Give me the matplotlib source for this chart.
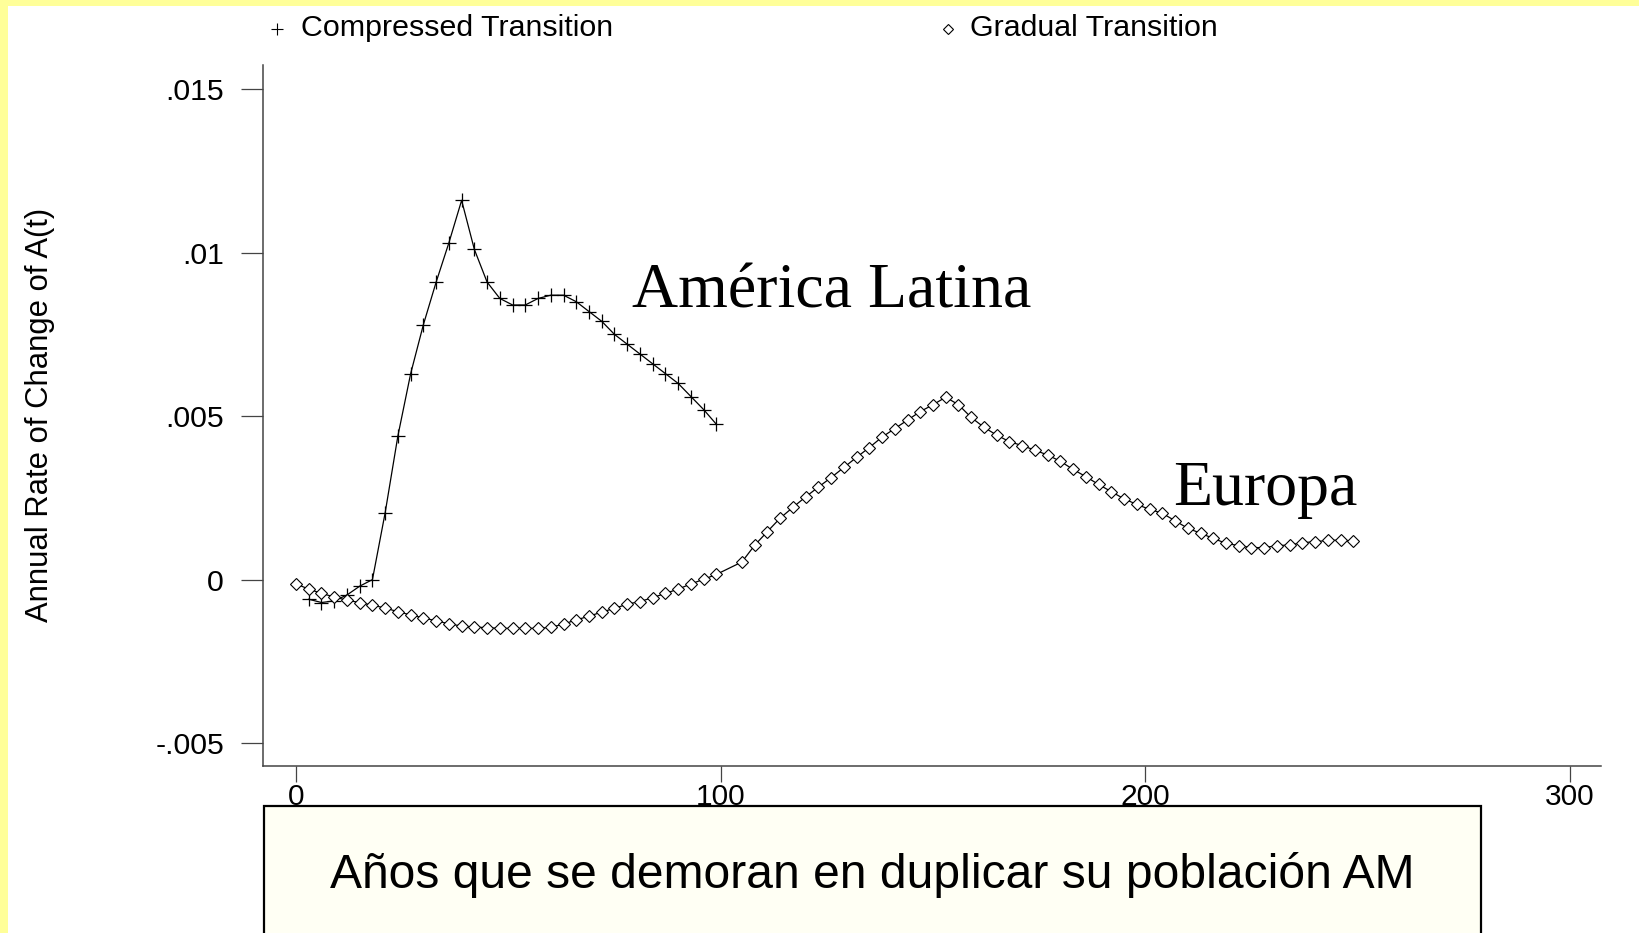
import numpy as np
import matplotlib
matplotlib.use("Agg")
import matplotlib.pyplot as plt
from matplotlib.patches import Rectangle
from matplotlib.lines import Line2D

# Compressed transition (América Latina): every 3 years, 3..99
compressed_years = list(range(3, 100, 3))
compressed_rate = [-0.0006, -0.0007, -0.00065, -0.00047, -0.0002, 0.0, 0.00205,
                   0.0044, 0.0063, 0.0078, 0.0091, 0.0103, 0.0116, 0.0101, 0.0091,
                   0.0086, 0.0084, 0.0084, 0.0086, 0.0087, 0.0087, 0.0085, 0.0082,
                   0.0079, 0.0075, 0.0072, 0.0069, 0.0066, 0.0063, 0.0060, 0.0056,
                   0.0052, 0.00475]

# Gradual transition (Europa): every 3 years, 0..99 and 105..249
gradual_years = list(range(0, 100, 3)) + list(range(105, 250, 3))
gradual_rate = [-0.00013, -0.00029, -0.00042, -0.00053, -0.00063, -0.00070, -0.00078,
                -0.00087, -0.00098, -0.00108, -0.00117, -0.00126, -0.00135, -0.00142,
                -0.00145, -0.00147, -0.00149, -0.00149, -0.00149, -0.00149, -0.00146,
                -0.00136, -0.00123, -0.00112, -0.00099, -0.00088, -0.00075, -0.00067,
                -0.00055, -0.00042, -0.00029, -0.00013, 0.00001, 0.00016,
                0.00054, 0.00105, 0.00147, 0.00188, 0.00221, 0.00253, 0.00283, 0.00312,
                0.00343, 0.00374, 0.00404, 0.00436, 0.00462, 0.00488, 0.00514, 0.00535,
                0.00558, 0.00535, 0.00496, 0.00466, 0.00442, 0.00422, 0.00410, 0.00396,
                0.00381, 0.00362, 0.00337, 0.00315, 0.00291, 0.00269, 0.00247, 0.00230,
                0.00215, 0.00203, 0.00180, 0.00157, 0.00142, 0.00126, 0.00111, 0.00104,
                0.00098, 0.00098, 0.00104, 0.00106, 0.00113, 0.00116, 0.00120, 0.00121,
                0.00118]

x_ticks = [0, 100, 200, 300]
y_ticks = [-0.005, 0, 0.005, 0.01, 0.015]
y_tick_labels = ["-.005", "0", ".005", ".01", ".015"]

series_labels = ["Compressed Transition", "Gradual Transition"]
region_labels = ["América Latina", "Europa"]
x_title = "Años que se demoran en duplicar su población AM"
y_title = "Annual Rate of Change of A(t)"

W, H = 1639, 933
plt.rcParams["font.family"] = ["Liberation Sans", "DejaVu Sans"]

fig = plt.figure(figsize=(W / 100, H / 100), dpi=100, facecolor="white")

def px(x0, y0, x1, y1):
    return [x0 / W, 1 - y1 / H, (x1 - x0) / W, (y1 - y0) / H]

ax = fig.add_axes(px(263, 65, 1601, 766))
ax.set_facecolor("white")

ax.plot(compressed_years, compressed_rate, color="black", lw=0.9,
        marker="+", markersize=10, markeredgewidth=0.9)
ax.plot(gradual_years, gradual_rate, color="black", lw=0.9,
        marker="D", markersize=6.5, markerfacecolor="white",
        markeredgecolor="black", markeredgewidth=0.8)

ax.set_xlim(-7.77, 307.3)
ax.set_ylim(-0.0057, 0.01574)
ax.set_xticks(x_ticks)
ax.set_xticklabels([str(v) for v in x_ticks])
ax.set_yticks(y_ticks)
ax.set_yticklabels(y_tick_labels)

for s in ["top", "right"]:
    ax.spines[s].set_visible(False)
for s in ["left", "bottom"]:
    ax.spines[s].set_color("#444444")
    ax.spines[s].set_linewidth(1.1)

ax.tick_params(axis="x", direction="out", length=11.5, width=0.9, color="#444444",
               pad=0.5, labelsize=21.5)
ax.tick_params(axis="y", direction="out", length=16, width=0.9, color="#444444",
               pad=12, labelsize=21.8)

ax.text(79.1, 0.00831, region_labels[0], family=["Liberation Serif", "DejaVu Serif"],
        fontsize=46, va="baseline", ha="left")
ax.text(206.6, 0.00228, region_labels[1], family=["Liberation Serif", "DejaVu Serif"],
        fontsize=46, va="baseline", ha="left")

# y-axis title
fig.text(40 / W, 1 - 415 / H, y_title, rotation=90, ha="center", va="center",
         fontsize=22.3)

# legend row across the top
fig.add_artist(Line2D([277 / W], [1 - 29 / H], marker="+", color="black",
                      markersize=8, markeredgewidth=0.8, transform=fig.transFigure))
fig.text(301 / W, 1 - 28 / H, series_labels[0], ha="left", va="center", fontsize=21.9)
fig.add_artist(Line2D([948 / W], [1 - 29 / H], marker="D", color="black",
                      markersize=5.5, markerfacecolor="white", markeredgewidth=0.8,
                      transform=fig.transFigure))
fig.text(970 / W, 1 - 28 / H, series_labels[1], ha="left", va="center", fontsize=21.9)

# x-axis title box
box = Rectangle((264 / W, -0.02), (1481 - 264) / W, 0.02 + (1 - 806 / H),
                transform=fig.transFigure, facecolor="#FFFFF4", edgecolor="black",
                linewidth=1.6, zorder=3)
fig.add_artist(box)
fig.text(872.5 / W, 1 - 888 / H, x_title, ha="center", va="baseline",
         fontsize=34.6, zorder=4)

# yellow page edges
fig.add_artist(Rectangle((0, 0), 8 / W, 1, transform=fig.transFigure,
                         facecolor="#FFFF99", edgecolor="none", zorder=5))
fig.add_artist(Rectangle((0, 1 - 6 / H), 1, 6 / H, transform=fig.transFigure,
                         facecolor="#FFFF99", edgecolor="none", zorder=5))

fig.savefig("out.png", dpi=100, facecolor="white")
